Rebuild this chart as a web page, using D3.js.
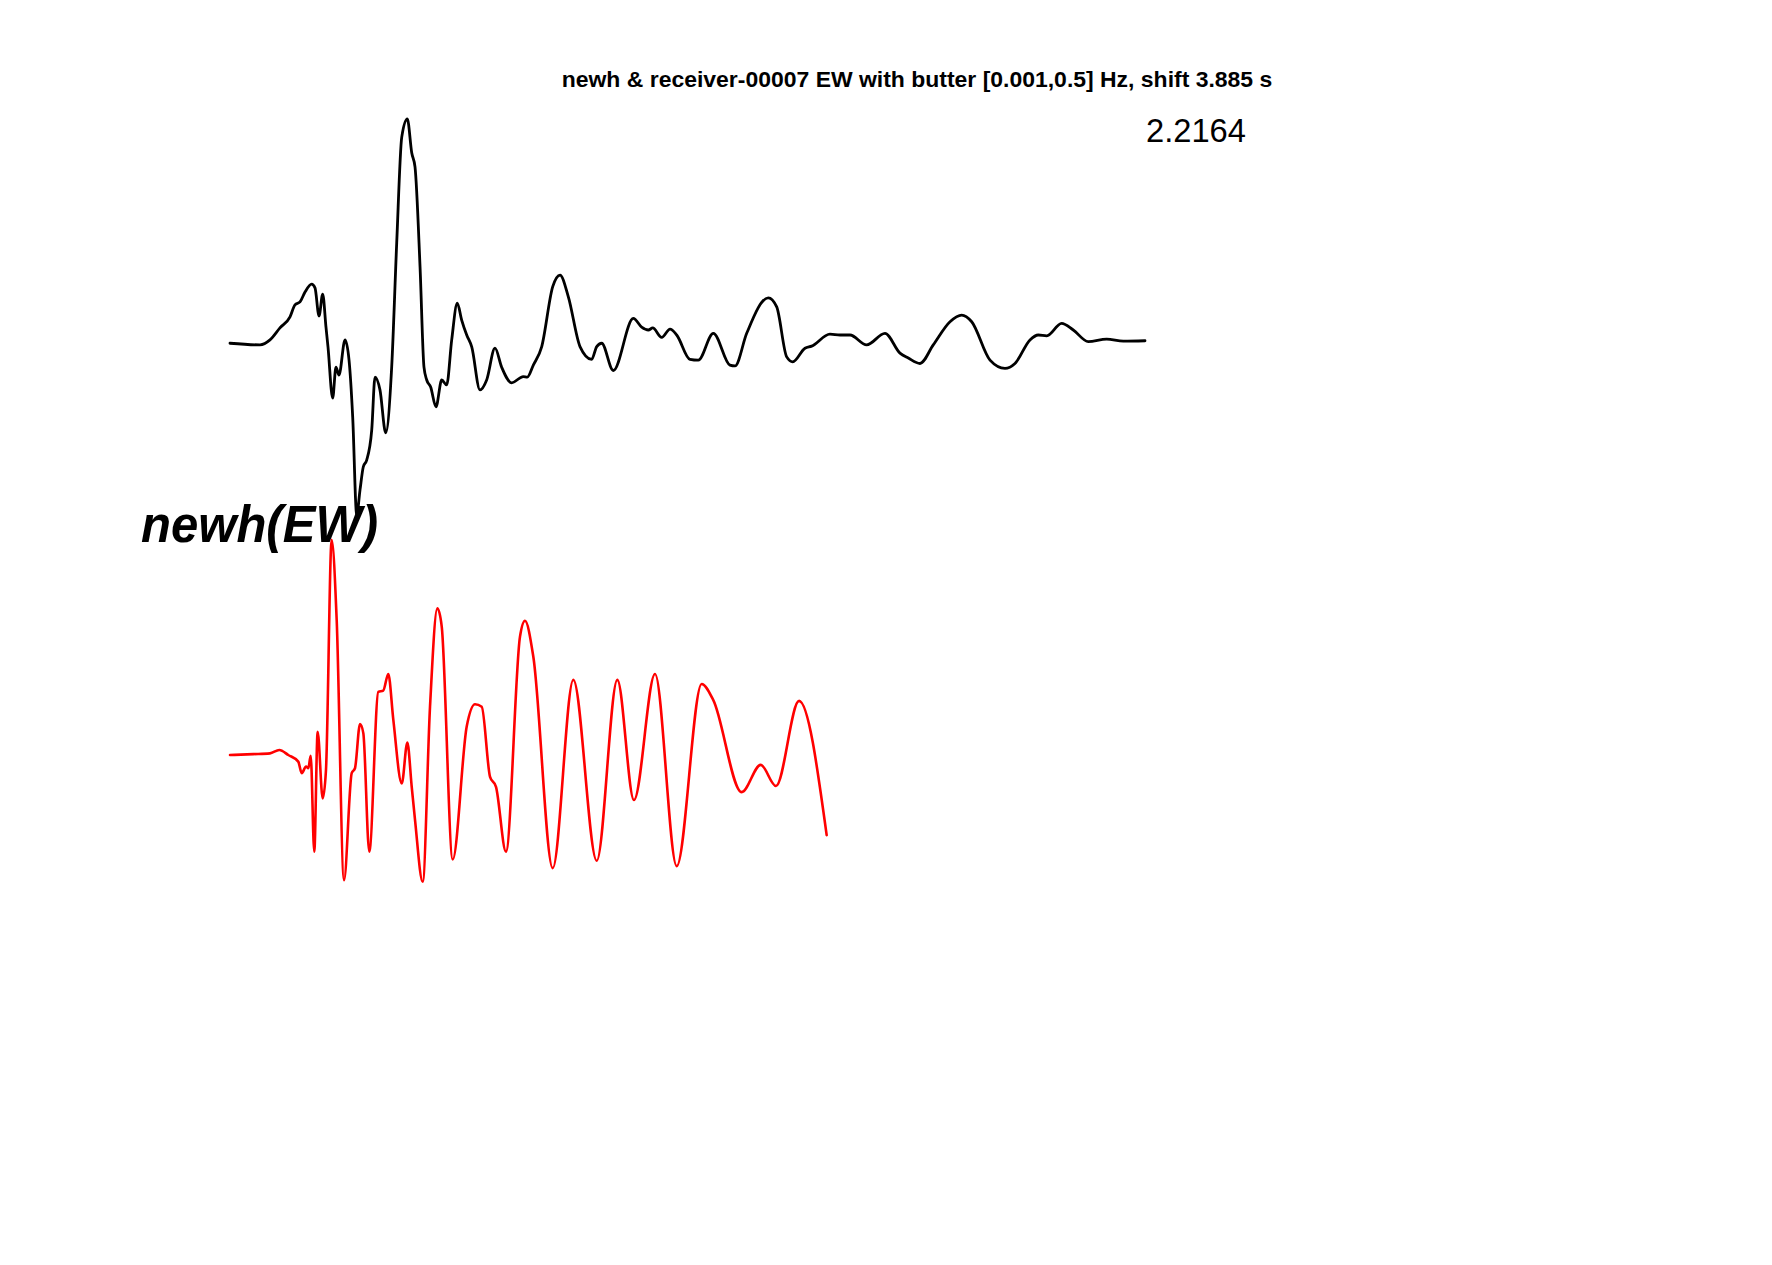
<!DOCTYPE html>
<html>
<head>
<meta charset="utf-8">
<script src="https://cdn.jsdelivr.net/npm/d3@7"></script>
<style>
  html, body { margin: 0; padding: 0; background: #ffffff; }
  svg { display: block; }
</style>
</head>
<body>
<svg id="chart" width="1772" height="1265"></svg>
<script>
// ---------- DATA ----------
const titleText = "newh & receiver-00007 EW with butter [0.001,0.5] Hz, shift 3.885 s";
const ratioLabel = "2.2164";
const traceLabel = "newh(EW)";

// trace offsets (arbitrary amplitude units)
const traceOffsets = [10, 0];
const traceNames = ["receiver", "newh"];

// black trace (receiver-00007): time (s), amplitude
const blackTime = [0, 3.28, 4.37, 5.46, 6.56, 7.10, 7.65, 8.20, 8.93, 9.29, 9.73, 10.13, 10.49, 10.71, 11.22, 11.58, 11.91, 12.57, 13.01, 13.41,
  13.85, 14.21, 14.57, 14.94, 15.49, 15.85, 16.39, 17.02, 17.67, 18.22, 18.77, 19.38, 19.86, 20.22, 20.77, 21.20, 21.50, 21.93, 22.51, 23.14,
  23.68, 24.23, 24.84, 25.32, 25.87, 26.42, 27.32, 28.05, 28.96, 29.69, 30.79, 31.69, 32.05, 32.49, 33.15, 34.07, 35.27, 36.07, 36.97, 38.25,
  39.53, 40.08, 40.62, 41.89, 44.08, 44.99, 45.72, 46.20, 47.18, 48.09, 48.82, 50.27, 51.18, 52.82, 54.64, 55.19, 56.47, 58.83, 59.75, 60.84,
  61.50, 62.84, 63.57, 65.57, 66.67, 67.76, 69.58, 71.58, 73.22, 74.13, 75.41, 76.86, 78.69, 79.97, 81.06, 83.06, 84.70, 85.79, 87.43, 88.34,
  89.26, 90.89, 92.16, 93.80, 95.81, 97.63, 100];
const blackAmp = [-0.03, -0.07, 0.05, 0.34, 0.61, 0.90, 0.97, 1.21, 1.40, 1.31, 0.63, 1.16, 0.36, -0.12, -1.36, -0.61, -0.80, 0.05, -0.44, -1.82,
  -4.19, -3.58, -3.02, -2.86, -2.13, -0.85, -1.16, -2.20, -0.61, 2.40, 4.96, 5.40, 4.58, 4.24, 1.82, -0.61, -0.92, -1.09, -1.57, -0.92,
  -1.04, 0.05, 0.94, 0.53, 0.17, -0.12, -1.16, -0.92, -0.15, -0.61, -0.99, -0.87, -0.84, -0.85, -0.56, -0.11, 1.34, 1.62, 1.10, -0.11,
  -0.42, -0.11, -0.03, -0.69, 0.57, 0.36, 0.29, 0.34, 0.11, 0.31, 0.17, -0.42, -0.44, 0.21, -0.56, -0.58, 0.21, 1.07, 0.85, -0.36,
  -0.48, -0.15, -0.10, 0.19, 0.17, 0.17, -0.07, 0.21, -0.27, -0.39, -0.52, -0.07, 0.49, 0.65, 0.49, -0.44, -0.64, -0.52, 0.05, 0.17,
  0.15, 0.45, 0.29, 0.01, 0.07, 0.02, 0.03];

// red trace (newh synthetic): time (s), amplitude
const redTime = [0, 2.55, 4.37, 5.39, 6.37, 7.46, 7.84, 8.31, 8.56, 8.82, 9.21, 9.58, 10.13, 10.49, 11.11, 11.66, 12.46, 13.30, 13.66, 14.21,
  14.57, 15.22, 16.21, 16.75, 17.30, 17.85, 18.77, 19.38, 19.86, 20.22, 21.06, 21.86, 22.66, 23.14, 24.34, 25.87, 26.78, 27.51, 28.42, 29.07,
  30.16, 31.69, 32.24, 33.15, 35.27, 37.52, 40.08, 42.33, 44.15, 46.45, 48.82, 51.55, 52.82, 55.92, 58.00, 59.67, 62.19, 65.21];
const redAmp = [0, 0.02, 0.04, 0.12, 0, -0.16, -0.44, -0.28, -0.32, -0.02, -2.34, 0.56, -1.05, -0.36, 5.21, 3.27, -3.03, -0.44, -0.32, 0.75,
  0.53, -2.34, 1.53, 1.56, 1.96, 0.85, -0.69, 0.30, -0.77, -1.57, -3.07, 1.17, 3.55, 3.11, -2.53, 0.69, 1.23, 1.17, -0.53, -0.77,
  -2.34, 2.86, 3.25, 2.38, -2.74, 1.82, -2.56, 1.82, -1.09, 1.96, -2.69, 1.72, 1.33, -0.90, -0.24, -0.75, 1.31, -1.94];

// ---------- LAYOUT ----------
const svg = d3.select("#chart");
const font = "'Liberation Sans', Arial, Helvetica, sans-serif";

const x = d3.scaleLinear().domain([0, 100]).range([230, 1145]);
const y = d3.scaleLinear().domain([0, 10]).range([755, 342]);

function fitText(sel, targetWidth, startSize) {
  sel.attr("font-size", startSize);
  const w = sel.node().getComputedTextLength();
  sel.attr("font-size", startSize * targetWidth / w);
}

// title
const title = svg.append("text")
  .attr("x", 917).attr("y", 87)
  .attr("text-anchor", "middle")
  .attr("font-family", font).attr("font-weight", "bold")
  .attr("fill", "#000")
  .text(titleText);
fitText(title, 711, 20);

// ratio label
const ratio = svg.append("text")
  .attr("x", 1146).attr("y", 142)
  .attr("font-family", font)
  .attr("fill", "#000")
  .text(ratioLabel);
fitText(ratio, 100, 33);

// trace label (condensed bold italic, as in the reference)
svg.append("text")
  .attr("x", 141).attr("y", 542)
  .attr("font-family", font).attr("font-weight", "bold").attr("font-style", "italic")
  .attr("font-size", 52)
  .attr("textLength", 237)
  .attr("lengthAdjust", "spacingAndGlyphs")
  .attr("fill", "#000")
  .text(traceLabel);

// traces
const series = [
  { t: blackTime, a: blackAmp, off: traceOffsets[0], color: "#000000", w: 2.8 },
  { t: redTime, a: redAmp, off: traceOffsets[1], color: "#ff0000", w: 2.6 }
];

const line = d3.line().curve(d3.curveMonotoneX);

series.forEach(s => {
  const pts = s.t.map((t, i) => [x(t), y(s.off + s.a[i])]);
  svg.append("path")
    .attr("d", line(pts))
    .attr("fill", "none")
    .attr("stroke", s.color)
    .attr("stroke-width", s.w)
    .attr("stroke-linejoin", "round")
    .attr("stroke-linecap", "round");
});
</script>
</body>
</html>
